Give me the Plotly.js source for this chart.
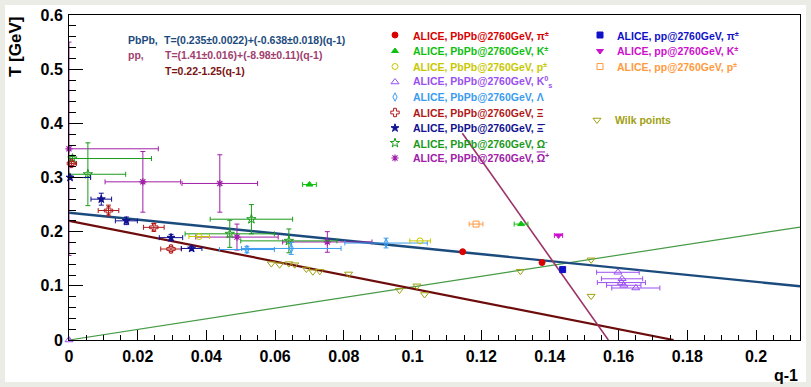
<!DOCTYPE html>
<html><head><meta charset="utf-8">
<script src="https://cdn.plot.ly/plotly-3.0.1.min.js"></script>
<style>html,body{margin:0;padding:0;background:#ecece6;}#c{width:811px;height:387px;}</style>
</head><body><div id="c"></div>
<script>
// ---- data (q-1, T [GeV]) ----
const piPbX=[0.1146,0.1377], piPbT=[0.163,0.143];
const kPbX=[0.070,0.1316], kPbT=[0.287,0.214], kPbEx=[0.002,0.002];
const pPbX=[0.0379,0.1022], pPbT=[0.191,0.183], pPbEx=[0.003,0.003];
const k0X=[0,0.1598,0.1610,0.1608,0.1615,0.1650], k0T=[0,0.125,0.113,0.106,0.101,0.096], k0Ex=[0,0.0062,0.006,0.007,0.005,0.007];
const lamX=[0.0518,0.0647,0.0923], lamT=[0.167,0.169,0.179], lamEx=[0.008,0.0145,0.012], lamEy=[0.006,0.011,0.009];
const xiX=[0.0007,0.0115,0.0247,0.0297], xiT=[0.326,0.239,0.208,0.168], xiEx=[0.0015,0.003,0.003,0.003], xiEy=[0.004,0.010,0.007,0.005];
const axiX=[0.0003,0.0094,0.0167,0.0297,0.0357], axiT=[0.300,0.260,0.220,0.189,0.169], axiEx=[0.006,0.003,0.0032,0.0034,0.003], axiEy=[0.003,0.011,0.007,0.006,0.004];
const omX=[0.001,0.0055,0.0531,0.0468,0.064], omT=[0.335,0.306,0.223,0.196,0.183], omEx=[0.023,0.011,0.012,0.013,0.014], omEy=[0.004,0.058,0.027,0.025,0.022];
const aomX=[0,0.0215,0.0439,0.0489,0.0752], aomT=[0.353,0.292,0.289,0.190,0.181], aomEx=[0.026,0.011,0.011,0.012,0.013], aomEy=[0.197,0.056,0.053,0.024,0.019];
const piPpX=[0.1437], piPpT=[0.130];
const kPpX=[0.1425], kPpT=[0.193], kPpEx=[0.0012];
const pPpX=[0.1185], pPpT=[0.214], pPpEx=[0.002];
const wilkX=[0.0589,0.0613,0.064,0.0657,0.0691,0.071,0.073,0.0814,0.0962,0.1013,0.1035,0.1314,0.152,0.152];
const wilkT=[0.141,0.139,0.141,0.139,0.131,0.126,0.127,0.122,0.092,0.100,0.084,0.127,0.148,0.081];
// fit lines: [intercept, slope, xmin, xmax]
const fitPbPb=[0.235,-0.638,0,0.2128];
const fitPp=[1.41,-8.98,0.1145,0.157];
const fitWilk=[0.22,-1.25,0,0.176];
const fitGreen=[0,0.98,0,0.2128];

const F='Liberation Sans, Arial, Helvetica, sans-serif';
const traces=[];
function line(p,color,w){
  traces.push({x:[p[2],p[3]],y:[p[0]+p[1]*p[2],p[0]+p[1]*p[3]],mode:'lines',line:{color:color,width:w},hoverinfo:'skip',showlegend:false});
}
function pts(x,y,ex,ey,color,symbol,size,lw){
  const t={x:x,y:y,mode:'markers',cliponaxis:false,showlegend:false,
    marker:{color:color,symbol:symbol,size:size,line:{color:color,width:lw||1}}};
  if(ex){t.error_x={type:'data',symmetric:false,array:ex,arrayminus:ex.map((e,i)=>Math.min(e,x[i])),color:color,thickness:1,width:2.5};}
  if(ey){t.error_y={type:'data',array:ey,color:color,thickness:1,width:2.5};}
  traces.push(t);
}
line(fitGreen,'#459a45',1.2);
line(fitWilk,'#6e0c0c',2.2);
line(fitPbPb,'#1b4b7d',2.4);
line(fitPp,'#9b3366',1.6);

const S=[
 {x:aomX,y:aomT,ex:aomEx,ey:aomEy,c:'#a020a8',s:'asterisk-open',z:6,lw:1.2,t:'ALICE, PbPb@2760GeV, <span style="text-decoration:overline">Ω</span><sup>+</sup>'},
 {x:omX,y:omT,ex:omEx,ey:omEy,c:'#1a9a1a',s:'star-open',z:7,t:'ALICE, PbPb@2760GeV, Ω<sup>-</sup>'},
 {x:lamX,y:lamT,ex:lamEx,ey:lamEy,c:'#3a9cf0',s:'diamond-tall-open',z:6,t:'ALICE, PbPb@2760GeV, Λ'},
 {x:xiX,y:xiT,ex:xiEx,ey:xiEy,c:'#b01818',s:'cross-open',z:7,t:'ALICE, PbPb@2760GeV, Ξ'},
 {x:axiX,y:axiT,ex:axiEx,ey:axiEy,c:'#101090',s:'star',z:6,t:'ALICE, PbPb@2760GeV, Ξ̄'},
 {x:k0X,y:k0T,ex:k0Ex,ey:null,c:'#9a50f0',s:'triangle-up-open',z:7,t:'ALICE, PbPb@2760GeV, K<sup>0</sup><sub>s</sub>'},
 {x:pPbX,y:pPbT,ex:pPbEx,ey:null,c:'#c8c800',s:'circle-open',z:6,t:'ALICE, PbPb@2760GeV, p<sup>±</sup>'},
 {x:kPbX,y:kPbT,ex:kPbEx,ey:null,c:'#10c010',s:'triangle-up',z:6,t:'ALICE, PbPb@2760GeV, K<sup>±</sup>'},
 {x:piPbX,y:piPbT,ex:null,ey:null,c:'#d80000',s:'circle',z:6,t:'ALICE, PbPb@2760GeV, π<sup>±</sup>'},
 {x:piPpX,y:piPpT,ex:null,ey:null,c:'#1010c8',s:'square',z:6,t:'ALICE, pp@2760GeV, π<sup>±</sup>'},
 {x:kPpX,y:kPpT,ex:kPpEx,ey:null,c:'#cc10cc',s:'triangle-down',z:6,t:'ALICE, pp@2760GeV, K<sup>±</sup>'},
 {x:pPpX,y:pPpT,ex:pPpEx,ey:null,c:'#ff9a40',s:'square-open',z:6,t:'ALICE, pp@2760GeV, p<sup>±</sup>'},
 {x:wilkX,y:wilkT,ex:null,ey:null,c:'#a0a010',s:'triangle-down-open',z:7,t:'Wilk points'}
];
S.forEach(d=>pts(d.x,d.y,d.ex,d.ey,d.c,d.s,d.z,d.lw));

// legend layout (pixel positions)
const order=[8,7,6,5,2,3,4,1,0]; // column 1 top→bottom
const rowY=[35,51,66.5,82,97,112.5,128,143,158];
const px=v=>(v-69)/731, py=v=>(340-v)/325;
const ann=[];
function legEntry(d,mx,tx,y){
  traces.push({x:[mx],y:[y],xaxis:'x2',yaxis:'y2',mode:'markers',cliponaxis:false,showlegend:false,hoverinfo:'skip',
    marker:{color:d.c,symbol:d.s,size:d.z,line:{color:d.c,width:d.lw||1}}});
  ann.push({xref:'paper',yref:'paper',x:px(tx),y:py(y),xanchor:'left',yanchor:'middle',showarrow:false,
    text:'<b>'+d.t+'</b>',font:{family:F,size:10.5,color:d.c}});
}
order.forEach((k,i)=>legEntry(S[k],395,411,rowY[i]));
[9,10,11].forEach((k,i)=>legEntry(S[k],600,615,rowY[i]));
legEntry(S[12],597,613,120);

function txt(x,y,t,c,size,extra){
  ann.push(Object.assign({xref:'paper',yref:'paper',x:px(x),y:py(y),xanchor:'left',yanchor:'middle',showarrow:false,
    text:'<b>'+t+'</b>',font:{family:F,size:size,color:c}},extra||{}));
}
txt(126,40,'PbPb,','#1b4b7d',10.5);
txt(162,40,'T=(0.235±0.0022)+(-0.638±0.018)(q-1)','#1b4b7d',10.5);
txt(126,55,'pp,','#a0406e',10.5);
txt(163,55,'T=(1.41±0.016)+(-8.98±0.11)(q-1)','#a0406e',10.5);
txt(163,71,'T=0.22-1.25(q-1)','#7a1414',10.5);
txt(15,15,'T [GeV]','#000',17,{textangle:-90,xanchor:'center',yanchor:'top'});
txt(800,375,'q-1','#000',16,{xanchor:'right'});

const tf={family:F,size:16,color:'#000',weight:'bold'};
const layout={
  width:811,height:387,margin:{l:69,r:11,t:15,b:47},
  paper_bgcolor:'#ecece6',plot_bgcolor:'#ffffff',
  xaxis:{range:[0,0.2128],tick0:0,dtick:0.02,ticks:'inside',ticklen:10,tickcolor:'#000',tickwidth:1,
    minor:{dtick:0.005,ticks:'inside',ticklen:5,tickcolor:'#000',tickwidth:1,showgrid:false},
    showline:true,linecolor:'#000',linewidth:1,mirror:true,showgrid:false,zeroline:false,tickfont:tf,ticklabelstandoff:2},
  yaxis:{range:[0,0.6],tick0:0,dtick:0.1,ticks:'inside',ticklen:14,tickcolor:'#000',tickwidth:1,
    minor:{dtick:0.02,ticks:'inside',ticklen:7,tickcolor:'#000',tickwidth:1,showgrid:false},
    showline:true,linecolor:'#000',linewidth:1,mirror:true,showgrid:false,zeroline:false,tickfont:tf,ticklabelstandoff:2},
  xaxis2:{overlaying:'x',anchor:'y2',range:[69,800],visible:false,fixedrange:true},
  yaxis2:{overlaying:'y',anchor:'x2',range:[340,15],visible:false,fixedrange:true},
  shapes:[{type:'rect',xref:'paper',yref:'paper',x0:px(5),x1:px(806),y0:py(382),y1:py(5),fillcolor:'#ffffff',line:{width:0},layer:'below'}],
  annotations:ann,showlegend:false
};
Plotly.newPlot('c',traces,layout,{displayModeBar:false});
</script></body></html>
